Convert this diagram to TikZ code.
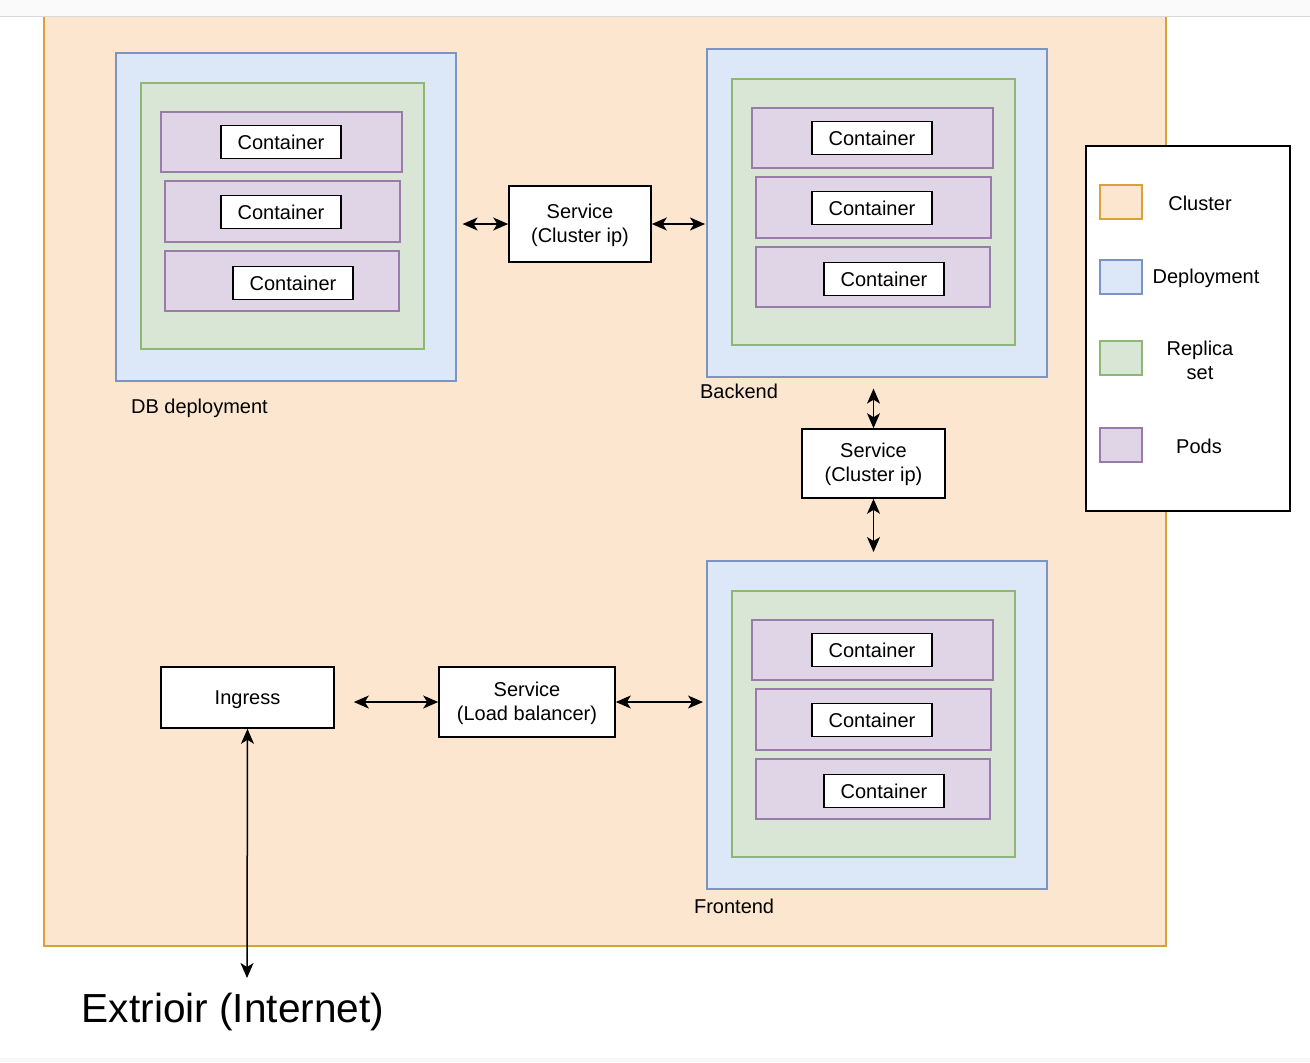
\documentclass[tikz,border=0pt]{standalone}
\usepackage{fontspec}
\setmainfont{Liberation Sans}
\usetikzlibrary{arrows.meta}
\definecolor{clusterfill}{HTML}{FCE6CF}
\definecolor{clusterline}{HTML}{D9A13B}
\definecolor{deployfill}{HTML}{DCE7F8}
\definecolor{deployline}{HTML}{7B94C4}
\definecolor{replicafill}{HTML}{D9E6D6}
\definecolor{replicaline}{HTML}{8DB774}
\definecolor{podfill}{HTML}{E0D5E6}
\definecolor{podline}{HTML}{9A7BAA}
\tikzset{
  cluster/.style={draw=clusterline, fill=clusterfill, line width=0.8pt},
  deploy/.style={draw=deployline, fill=deployfill, line width=0.8pt},
  replica/.style={draw=replicaline, fill=replicafill, line width=0.8pt},
  pod/.style={draw=podline, fill=podfill, line width=0.8pt},
  ctr/.style={draw, fill=white, line width=0.8pt, minimum width=60pt, minimum height=16.5pt, inner sep=0pt},
  svc/.style={draw, fill=white, line width=0.8pt, align=center, inner sep=0pt},
  conn/.style={{Stealth[length=7.5pt,width=6.5pt,inset=2pt]}-{Stealth[length=7.5pt,width=6.5pt,inset=2pt]}, line width=0.75pt},
}
\begin{document}
\begin{tikzpicture}[x=0.5pt, y=-0.5pt, font=\fontsize{10}{12}\selectfont]
    \useasboundingbox (0,0) rectangle (1310,1062);
    % cluster and window bands
    \fill[white] (0,0) rectangle (1310,1062);
    \draw[cluster] (44,10) rectangle (1166,946);
    \fill[black!2] (0,0) rectangle (1310,16);
    \draw[black!15, line width=0.8pt] (0,16.5) -- (1310,16.5);
    \fill[black!3] (0,1058) rectangle (1310,1062);
    % deployments
    \foreach \name/\x/\y in {db/115/52, back/706/48, front/706/560} {
        \begin{scope}[shift={(\x,\y)}]
            \node[deploy, minimum width=170pt, minimum height=164pt, anchor=north west] (\name) at (0,0) {};
            \draw[replica] (26,31) rectangle (309,297);
            \draw[pod] (46,60) rectangle (287,120);
            \draw[pod] (50,129) rectangle (285,190);
            \draw[pod] (50,199) rectangle (284,259);
            \node[ctr] (\name c1) at (166,90) {Container};
            \node[ctr] (\name c2) at (166,160) {Container};
            \node[ctr] (\name c3) at (178,231) {Container};
        \end{scope}
    }
    \node[anchor=west] (dblbl) at (124,408) {DB deployment};
    \node[anchor=west] (backlbl) at (693,391) {Backend};
    \node[anchor=west] (frontlbl) at (687,906) {Frontend};
    % services
    \node[svc, minimum width=71pt, minimum height=38pt, text depth=1pt] (svctop) at (580,224) {Service\\(Cluster ip)};
    \node[svc, minimum width=71.5pt, minimum height=34.5pt, text depth=1pt] (svcmid) at (873.5,463.5) {Service\\(Cluster ip)};
    \node[svc, minimum width=88pt, minimum height=35pt, text depth=1pt] (svclb) at (527,702) {Service\\(Load balancer)};
    \node[svc, minimum width=86.5pt, minimum height=30.5pt, text depth=0pt] (ingress) at (247.5,697.5) {Ingress};
    \node[font=\fontsize{20.3}{24}\selectfont] (ext) at (233,1012) {Extrioir (Internet)};
    \coordinate (extin) at (247,978);
    % connectors
    \draw[conn, shorten <=3pt] (db.east |- svctop) -- (svctop.west);
    \draw[conn, shorten >=0.5pt] (svctop.east) -- (back.west |- svctop);
    \draw[conn, shorten <=5.5pt] (back.south -| svcmid) -- (svcmid.north);
    \draw[conn, shorten >=4pt] (svcmid.south) -- (front.north -| svcmid);
    \draw[conn, shorten <=9.5pt] (ingress.east |- svclb) -- (svclb.west);
    \draw[conn, shorten >=1.5pt] (svclb.east) -- (front.west |- svclb);
    \draw[conn] (ingress.south) -- (extin);
    % legend
    \node[draw, fill=white, line width=0.8pt, minimum width=102pt, minimum height=182.5pt, anchor=north west] (key) at (1085,145) {};
    \draw[cluster] (1100,185) rectangle (1142,219);
    \draw[deploy] (1100,260) rectangle (1142,294);
    \draw[replica] (1100,341) rectangle (1142,375);
    \draw[pod] (1100,428) rectangle (1142,462);
    \node (keycluster) at (1200,203) {Cluster};
    \node (keydeploy) at (1206,278) {Deployment};
    \node[align=center] (keyreplica) at (1200,360) {Replica\\set};
    \node (keypod) at (1199,446) {Pods};
\end{tikzpicture}
\end{document}
